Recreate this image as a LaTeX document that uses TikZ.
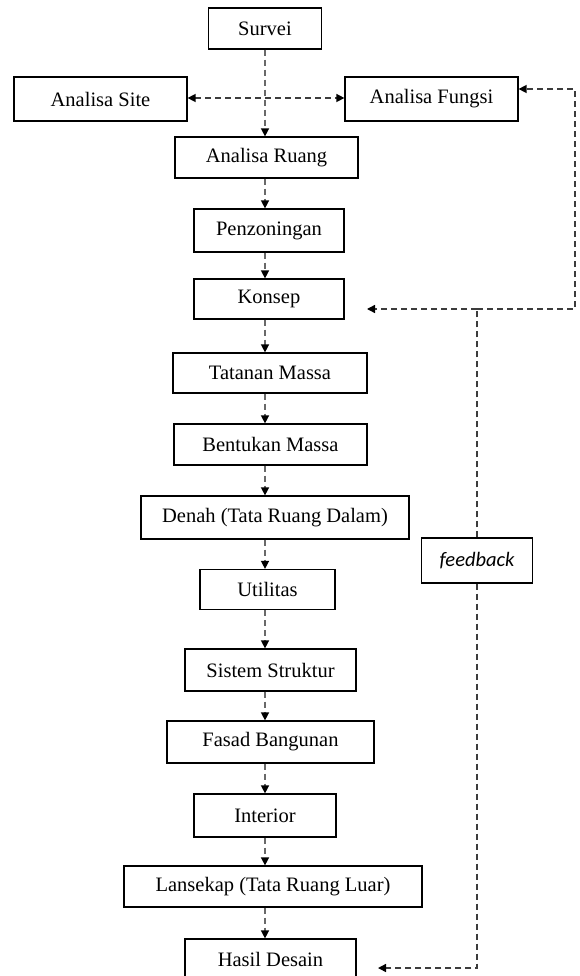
\documentclass[tikz,border=0pt]{standalone}
\usepackage{fontspec}
\setmainfont{Liberation Serif}
\newfontfamily\fbfont{Carlito}
\usetikzlibrary{arrows.meta}
\definecolor{dashgray}{RGB}{105,105,105}
\definecolor{fbgray}{RGB}{60,60,60}
\begin{document}
\begin{tikzpicture}[x=1pt,y=-1pt,
  box/.style={draw=black, line width=1.2pt, rectangle, inner sep=0pt,
    font=\fontsize{20.5}{24}\selectfont},
  tip/.style={-{Triangle[length=8pt,width=8pt,color=black]}},
  flow/.style={draw=dashgray, line width=1.4pt, dash pattern=on 6pt off 4pt, tip},
  fbline/.style={draw=fbgray, line width=1.4pt, dash pattern=on 6pt off 4pt}]
\useasboundingbox (0,0) rectangle (579,976);
% boxes
\node[box, minimum width=113pt, minimum height=41pt] (survei) at (265,28.5) {Survei};
\node[box, minimum width=173pt, minimum height=44pt] (site) at (100.5,99) {Analisa Site};
\node[box, minimum width=173pt, minimum height=44pt] (fungsi) at (431.5,99) {Analisa Fungsi};
\node[box, minimum width=183pt, minimum height=41pt] (ruang) at (266.5,157.5) {Analisa Ruang};
\node[box, minimum width=150pt, minimum height=43pt] (penz) at (269,230.5) {Penzoningan};
\node[box, minimum width=150pt, minimum height=40pt] (konsep) at (269,299) {Konsep};
\node[box, minimum width=194pt, minimum height=40pt] (tatanan) at (270,373) {Tatanan Massa};
\node[box, minimum width=193pt, minimum height=41pt] (bentukan) at (270.5,444.5) {Bentukan Massa};
\node[box, minimum width=268pt, minimum height=43pt] (denah) at (275,517.5) {Denah (Tata Ruang Dalam)};
\node[box, minimum width=135pt, minimum height=40pt] (util) at (267.5,589.5) {Utilitas};
\node[box, minimum width=171pt, minimum height=42pt] (sistem) at (270.5,670) {Sistem Struktur};
\node[box, minimum width=207pt, minimum height=42pt] (fasad) at (270.5,742) {Fasad Bangunan};
\node[box, minimum width=142pt, minimum height=43pt] (interior) at (265,815.5) {Interior};
\node[box, minimum width=298pt, minimum height=41pt] (lansekap) at (273,886.5) {Lansekap (Tata Ruang Luar)};
\node[box, minimum width=171pt, minimum height=41pt] (hasil) at (270.5,959.5) {Hasil Desain};
\node[box, minimum width=111pt, minimum height=45pt, font=\fontsize{20.5}{24}\fbfont\itshape] (fb) at (477,560.5) {feedback};
% helper coordinates
\coordinate (ax) at (265,0);
\coordinate (hy) at (0,98);
\coordinate (fy) at (0,89);
\coordinate (j1) at (477,309);
\coordinate (kt) at (367,309);
\coordinate (rc) at (575,309);
\coordinate (bc) at (477,968);
\coordinate (ht) at (378,968);
% main flow
\draw[flow] (survei.south -| ax) -- (ruang.north -| ax);
\draw[flow] (ruang.south -| ax) -- (penz.north -| ax);
\draw[flow] (penz.south -| ax) -- (konsep.north -| ax);
\draw[flow] (konsep.south -| ax) -- (tatanan.north -| ax);
\draw[flow] (tatanan.south -| ax) -- (bentukan.north -| ax);
\draw[flow] (bentukan.south -| ax) -- (denah.north -| ax);
\draw[flow] (denah.south -| ax) -- (util.north -| ax);
\draw[flow] (util.south -| ax) -- (sistem.north -| ax);
\draw[flow] (sistem.south -| ax) -- (fasad.north -| ax);
\draw[flow] (fasad.south -| ax) -- (interior.north -| ax);
\draw[flow] (interior.south -| ax) -- (lansekap.north -| ax);
\draw[flow] (lansekap.south -| ax) -- (hasil.north -| ax);
% site <-> fungsi
\draw[fbline, {Triangle[length=8pt,width=8pt,color=black]}-{Triangle[length=8pt,width=8pt,color=black]}]
  (site.east |- hy) -- (fungsi.west |- hy);
% feedback
\draw[fbline] (fb.north) -- (j1);
\draw[fbline, tip] (j1) -- (kt);
\draw[fbline, tip] (j1) -- (rc) -- (rc |- fy) -- (fungsi.east |- fy);
\draw[fbline, tip] (fb.south) -- (bc) -- (ht);
\end{tikzpicture}
\end{document}
